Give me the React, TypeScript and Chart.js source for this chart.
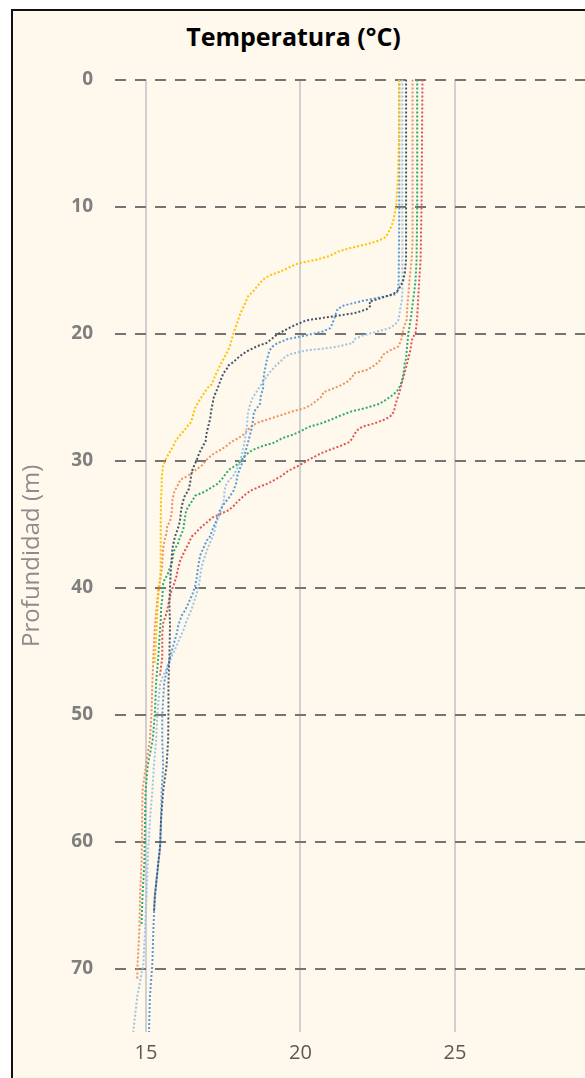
import React, { useEffect, useRef } from "react";
import { Chart, registerables } from "chart.js";

Chart.register(...registerables);

// Axis ticks
const xTickValues = [15, 20, 25];
const yTickValues = [0, 10, 20, 30, 40, 50, 60, 70];

// Profiles: [depth (m), temperature (°C)]
const yellowProfile: [number, number][] = [
  [0, 23.2], [4, 23.2], [8, 23.15], [10, 23.1], [11.2, 23.0], [11.8, 22.9], [12.4, 22.77], [12.7, 22.52],
  [13.0, 22.1], [13.3, 21.57], [13.55, 21.22], [13.9, 20.94], [14.2, 20.5], [14.5, 19.9], [14.8, 19.63],
  [15.1, 19.37], [15.4, 19.04], [15.65, 18.84], [16.0, 18.7], [16.6, 18.5], [17.1, 18.3], [17.8, 18.18],
  [18.4, 18.06], [19.25, 17.94], [20.1, 17.82], [21.0, 17.72], [21.6, 17.6], [22.2, 17.47], [22.8, 17.34],
  [23.4, 17.23], [24.0, 17.13], [24.3, 16.99], [24.6, 16.91], [25.0, 16.8], [25.55, 16.66], [25.9, 16.59],
  [26.4, 16.53], [26.75, 16.49], [27.1, 16.43], [27.3, 16.34], [27.65, 16.24], [27.9, 16.14], [28.25, 16.02],
  [28.57, 15.94], [28.86, 15.89], [29.17, 15.81], [29.43, 15.75], [29.78, 15.67], [30.04, 15.62], [30.35, 15.56],
  [30.75, 15.54], [31.27, 15.51], [32.06, 15.51], [33.1, 15.49], [34.7, 15.48], [36.8, 15.48], [38.4, 15.48],
  [39.4, 15.46], [40.7, 15.4], [42.0, 15.37], [43.1, 15.35], [46, 15.28],
];

const navyProfile: [number, number][] = [
  [0, 23.42], [10, 23.42], [14.2, 23.42], [15.2, 23.38], [15.9, 23.32], [16.6, 23.16], [16.9, 23.0],
  [17.15, 22.68], [17.5, 22.23], [17.8, 22.28], [18.1, 22.14], [18.4, 21.75], [18.96, 20.2], [19.3, 19.86],
  [19.6, 19.6], [19.86, 19.41], [20.1, 19.23], [20.45, 19.06], [20.75, 18.9], [21.0, 18.6], [21.35, 18.31],
  [21.6, 18.14], [21.95, 17.96], [22.25, 17.83], [22.5, 17.68], [22.85, 17.6], [23.1, 17.52], [23.4, 17.46],
  [24.0, 17.37], [24.6, 17.27], [25.0, 17.2], [25.5, 17.16], [26.1, 17.11], [26.7, 17.08], [27.3, 17.02],
  [27.9, 16.96], [28.5, 16.93], [28.8, 16.86], [29.4, 16.73], [30, 16.64], [30.35, 16.57], [30.9, 16.48],
  [31.8, 16.43], [32.4, 16.37], [32.7, 16.27], [33.3, 16.19], [33.9, 16.14], [34.8, 16.1], [35.4, 16.03],
  [36.0, 15.94], [36.9, 15.86], [37.8, 15.83], [38.9, 15.8], [40, 15.78], [41.2, 15.76], [43, 15.78],
  [45.5, 15.76], [47.5, 15.73], [50, 15.73], [52, 15.72], [54, 15.67], [56, 15.56], [58.3, 15.49],
  [60.4, 15.46], [61.7, 15.4], [64.3, 15.29], [65.6, 15.26],
];

const blueProfile: [number, number][] = [
  [0, 23.2], [10, 23.2], [15.9, 23.18], [16.6, 23.16], [16.9, 23.1], [17.45, 21.97], [17.8, 21.4],
  [18.07, 21.2], [18.4, 21.15], [18.96, 21.08], [19.57, 20.97], [19.85, 20.72], [20.17, 20.14], [20.45, 19.57],
  [20.77, 19.25], [21.06, 19.08], [21.35, 19.0], [21.67, 18.96], [22.25, 18.9], [23.1, 18.83], [23.7, 18.8],
  [24.35, 18.79], [24.9, 18.72], [25.55, 18.69], [25.85, 18.6], [26.15, 18.5], [26.7, 18.47], [27.3, 18.44],
  [28.25, 18.34], [28.8, 18.28], [29.4, 18.21], [30, 18.15], [30.6, 18.05], [31.2, 17.96], [31.8, 17.92],
  [32.4, 17.83], [33, 17.67], [33.3, 17.56], [33.9, 17.4], [34.8, 17.27], [35.4, 17.16], [36, 17.07],
  [36.3, 16.97], [36.9, 16.86], [37.5, 16.75], [38.4, 16.69], [39.3, 16.64], [39.9, 16.59], [40.5, 16.51],
  [41.1, 16.4], [41.8, 16.27], [42.2, 16.16], [42.95, 16.05], [43.6, 16.0], [45.5, 15.78], [47.5, 15.59],
  [50, 15.53], [52, 15.53], [54, 15.56], [56, 15.51], [58.3, 15.49], [60.4, 15.46], [64.3, 15.29],
  [67, 15.24], [69.6, 15.21], [72.2, 15.13], [75, 15.1],
];

const lightBlueProfile: [number, number][] = [
  [0, 23.3], [10, 23.3], [16.8, 23.3], [17.45, 23.28], [18.07, 23.23], [18.96, 23.17], [19.25, 23.08],
  [19.57, 22.89], [19.86, 22.47], [20.14, 22.03], [20.45, 21.74], [20.75, 21.7], [21.06, 21.15], [21.35, 20.15],
  [21.64, 19.64], [21.95, 19.45], [22.25, 19.34], [22.5, 19.21], [22.85, 19.09], [23.13, 18.98], [23.42, 18.91],
  [23.74, 18.8], [24.03, 18.73], [24.35, 18.64], [24.63, 18.57], [25.2, 18.42], [25.85, 18.34], [26.45, 18.29],
  [27.05, 18.28], [27.65, 18.25], [28.25, 18.21], [28.8, 18.17], [29.4, 18.12], [30, 18.05], [30.6, 17.96],
  [31.2, 17.83], [31.8, 17.61], [32.4, 17.54], [33, 17.53], [33.6, 17.47], [34.2, 17.4], [34.8, 17.29],
  [35.4, 17.24], [36, 17.16], [36.6, 17.05], [37.2, 16.96], [38.1, 16.83], [38.7, 16.78], [39.6, 16.73],
  [40.5, 16.64], [41.1, 16.56], [41.7, 16.48], [42.6, 16.32], [43.2, 16.24], [45.5, 15.83], [47.5, 15.46],
  [50, 15.37], [52, 15.33], [54, 15.26], [56, 15.21], [58.3, 15.13], [60.4, 15.08], [64.3, 15.02],
  [67, 14.97], [69.6, 14.92], [72.2, 14.72], [75, 14.59],
];

const orangeProfile: [number, number][] = [
  [0, 23.63], [10, 23.63], [12.7, 23.63], [14.2, 23.6], [15.8, 23.53], [16.8, 23.5], [17.9, 23.46],
  [18.9, 23.44], [19.57, 23.34], [20.45, 23.27], [20.75, 23.22], [21.04, 23.16], [21.35, 22.88], [21.67, 22.68],
  [21.95, 22.61], [22.24, 22.54], [22.53, 22.38], [22.85, 22.17], [23.13, 21.73], [23.42, 21.68], [23.74, 21.55],
  [24.03, 21.36], [24.35, 21.04], [24.63, 20.74], [24.92, 20.71], [25.26, 20.54], [25.55, 20.39], [25.85, 20.17],
  [26.15, 19.72], [26.45, 19.35], [26.75, 18.96], [27.05, 18.58], [27.34, 18.4], [27.94, 18.17], [28.25, 17.99],
  [28.54, 17.76], [28.83, 17.62], [29.15, 17.43], [29.43, 17.21], [29.75, 17.05], [30.04, 16.92], [30.35, 16.83],
  [30.64, 16.67], [30.93, 16.51], [31.24, 16.34], [31.5, 16.12], [31.85, 16.05], [32.45, 15.92], [33.05, 15.86],
  [34.2, 15.83], [34.8, 15.78], [35.15, 15.69], [35.7, 15.67], [36.3, 15.6], [36.9, 15.56], [38.1, 15.53],
  [38.6, 15.51], [39.4, 15.46], [40.2, 15.4], [41.5, 15.35], [43.1, 15.29], [45.5, 15.24], [47.5, 15.21],
  [50, 15.18], [52, 15.13], [54, 15.0], [56, 14.89], [58.3, 14.88], [61.7, 14.86], [64.3, 14.81],
  [67, 14.79], [69.6, 14.73], [70.8, 14.72],
];

const greenProfile: [number, number][] = [
  [0, 23.78], [10, 23.78], [14.2, 23.76], [16, 23.72], [18.7, 23.58], [19.9, 23.5], [20.8, 23.46], [22, 23.42],
  [22.3, 23.38], [22.9, 23.35], [23.5, 23.31], [23.8, 23.27], [24.05, 23.24], [24.4, 23.17], [24.65, 23.08],
  [24.97, 22.92], [25.26, 22.74], [25.55, 22.55], [25.87, 22.1], [26.15, 21.63], [26.47, 21.29], [26.75, 21.02],
  [27.07, 20.68], [27.36, 20.26], [27.68, 20.03], [27.97, 19.75], [28.25, 19.41], [28.57, 19.18], [28.86, 18.78],
  [29.17, 18.45], [29.5, 18.26], [30.1, 18.05], [30.35, 17.94], [30.67, 17.72], [30.96, 17.61], [31.5, 17.45],
  [31.85, 17.31], [32.14, 17.11], [32.45, 16.91], [32.77, 16.59], [33.06, 16.53], [33.37, 16.45], [33.64, 16.37],
  [33.95, 16.3], [34.55, 16.26], [35.42, 16.21], [35.73, 16.16], [36.05, 16.1], [36.6, 16.03], [36.9, 15.95],
  [37.26, 15.89], [37.83, 15.86], [38.1, 15.83], [38.4, 15.78], [39, 15.7], [39.3, 15.62], [39.65, 15.56],
  [40.85, 15.53], [41.7, 15.49], [42.6, 15.48], [43.2, 15.46], [45.5, 15.4], [47.5, 15.33], [50, 15.29],
  [52, 15.22], [54, 15.06], [56, 14.99], [58.3, 14.97], [61.7, 14.95], [64.3, 14.89], [66.5, 14.86],
];

const redProfile: [number, number][] = [
  [0, 23.95], [10, 23.92], [14.2, 23.89], [16, 23.84], [18.7, 23.78], [19.9, 23.73], [20.25, 23.66],
  [20.5, 23.61], [21.3, 23.56], [22, 23.49], [23.3, 23.35], [24.65, 23.2], [25.26, 23.12], [25.55, 23.08],
  [26.13, 23.03], [26.45, 22.95], [26.73, 22.77], [27.05, 22.43], [27.34, 22.0], [27.65, 21.82], [27.94, 21.75],
  [28.25, 21.68], [28.54, 21.59], [28.83, 21.32], [29.15, 20.96], [29.43, 20.67], [29.75, 20.42], [30.04, 20.2],
  [30.35, 19.99], [30.64, 19.75], [30.93, 19.54], [31.24, 19.37], [31.5, 19.18], [31.8, 18.96], [32.1, 18.64],
  [32.4, 18.37], [32.7, 18.21], [33, 18.07], [33.3, 17.94], [33.6, 17.83], [33.9, 17.69], [34.2, 17.42],
  [34.5, 17.15], [35.1, 16.86], [35.4, 16.72], [35.7, 16.61], [36, 16.48], [36.6, 16.37], [37.2, 16.24],
  [37.8, 16.12], [38.4, 16.05], [39.1, 15.99], [39.9, 15.89], [40.2, 15.83], [41.4, 15.72], [42, 15.67],
  [42.8, 15.56], [43.6, 15.53], [45.5, 15.53], [47, 15.45],
];

const seriesList = [
  { name: "S1", profile: yellowProfile, color: "#FFC000" },
  { name: "S2", profile: navyProfile, color: "#44546A" },
  { name: "S3", profile: blueProfile, color: "#5B9BD5" },
  { name: "S4", profile: lightBlueProfile, color: "#9DC3E6" },
  { name: "S5", profile: orangeProfile, color: "#EE9060" },
  { name: "S6", profile: greenProfile, color: "#2EAA6E" },
  { name: "S7", profile: redProfile, color: "#E05555" },
];

const CREAM = "#FEF9EC";

export default function App() {
  const canvasRef = useRef<HTMLCanvasElement | null>(null);

  useEffect(() => {
    const canvas = canvasRef.current;
    if (!canvas) return;
    const chart = new Chart(canvas, {
      type: "line",
      data: {
        datasets: seriesList.map((s) => ({
          label: s.name,
          data: s.profile.map(([d, t]) => ({ x: t, y: d })),
          borderColor: s.color,
          backgroundColor: s.color,
          borderWidth: 2,
          borderDash: [2, 2],
          pointRadius: 0,
          tension: 0,
          fill: false,
        })),
      },
      options: {
        animation: false,
        responsive: false,
        maintainAspectRatio: false,
        indexAxis: "y",
        layout: { padding: { top: 68.5, left: 0, right: 3.6, bottom: 0 } },
        plugins: {
          legend: { display: false },
          tooltip: { enabled: false },
          title: { display: false },
        },
        scales: {
          x: {
            type: "linear",
            position: "bottom",
            min: 14,
            max: 30,
            afterBuildTicks: (scale: any) => {
              scale.ticks = xTickValues.map((v) => ({ value: v }));
            },
            afterFit: (scale: any) => {
              scale.height = 46;
            },
            grid: { color: "#D0D0D0", lineWidth: 2, drawTicks: false },
            border: { display: false },
            ticks: {
              color: "#595959",
              padding: 9,
              font: { family: "'Open Sans', sans-serif", size: 20 },
            },
          },
          y: {
            type: "linear",
            position: "left",
            reverse: true,
            min: 0,
            max: 75,
            afterBuildTicks: (scale: any) => {
              scale.ticks = yTickValues.map((v) => ({ value: v }));
            },
            afterFit: (scale: any) => {
              scale.width = 102;
            },
            grid: { color: "#747474", lineWidth: 2, drawTicks: false },
            border: { display: false, dash: [11, 9] },
            ticks: {
              color: "#7F7F7F",
              padding: 22,
              font: { family: "'Open Sans', sans-serif", size: 19, weight: "bold" },
            },
            title: {
              display: true,
              text: "Profundidad (m)",
              color: "#8C8C8C",
              padding: { top: 5, bottom: 0 },
              font: { family: "'Open Sans', sans-serif", size: 24 },
            },
          },
        },
      } as any,
    });
    return () => chart.destroy();
  }, []);

  return (
    <div
      style={{
        position: "fixed",
        left: 0,
        top: 0,
        width: 585,
        height: 1078,
        overflow: "hidden",
        background: "#FFFFFF",
      }}
    >
      <div
        style={{
          position: "absolute",
          left: 11,
          top: 9,
          width: 700,
          height: 1200,
          borderLeft: "2px solid #111",
          borderTop: "2px solid #111",
          background: CREAM,
        }}
      >
        <div
          style={{
            position: "absolute",
            left: 0,
            top: 9,
            width: 561,
            textAlign: "center",
            fontFamily: "'Open Sans', sans-serif",
            fontWeight: 700,
            fontSize: 25,
            lineHeight: "32px",
            color: "#000",
          }}
        >
          Temperatura (°C)
        </div>
        <canvas
          ref={canvasRef}
          width={600}
          height={1067}
          style={{ position: "absolute", left: 0, top: 0, width: 600, height: 1067 }}
        />
      </div>
    </div>
  );
}
